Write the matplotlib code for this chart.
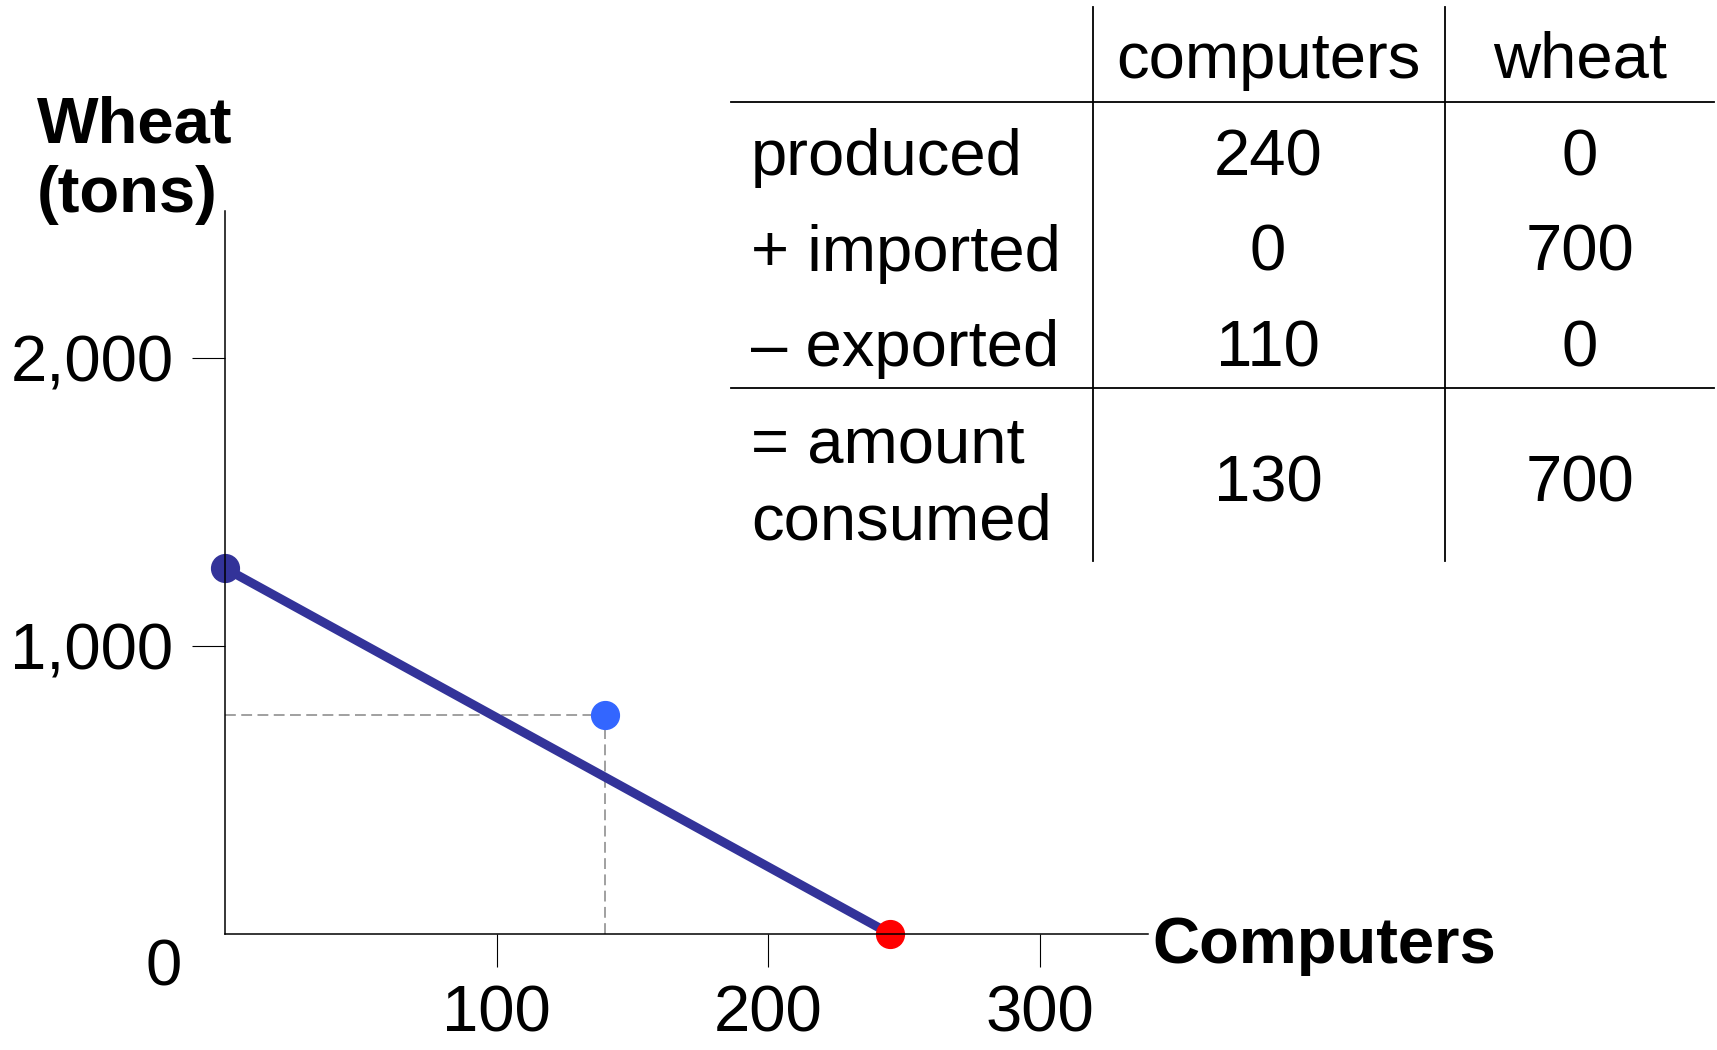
import matplotlib.pyplot as plt

plt.rcParams['font.family'] = ['Liberation Sans', 'DejaVu Sans']

# production possibilities line (computers, wheat)
ppf_x = [0, 245]
ppf_y = [1270, 0]
# consumption point
cons_x = 140
cons_y = 760

x_ticks = [100, 200, 300]
y_ticks = [1000, 2000]
y_tick_labels = ['1,000', '2,000']

col_heads = ['computers', 'wheat']
row_labels = ['produced', '+ imported', '\u2013 exported', '= amount\nconsumed']
computers_col = ['240', '0', '110', '130']
wheat_col = ['0', '700', '0', '700']

W, H = 1717, 1050
FS = 47
fig = plt.figure(figsize=(W / 100, H / 100), dpi=100)

# axes placed in pixels
x0, y0 = 225, 934
sx, sy = 2.716, 0.288
xmax, ymax = 340, 2510
ax = fig.add_axes([x0 / W, (H - y0) / H, xmax * sx / W, ymax * sy / H])
ax.set_xlim(0, xmax)
ax.set_ylim(0, ymax)
ax.patch.set_alpha(0)
for s in ['top', 'right']:
    ax.spines[s].set_visible(False)
for s in ['left', 'bottom']:
    ax.spines[s].set_linewidth(1.1)

ax.set_xticks(x_ticks)
ax.set_xticklabels([str(v) for v in x_ticks])
ax.set_yticks(y_ticks)
ax.set_yticklabels(y_tick_labels)
ax.tick_params(axis='both', direction='out', length=24, width=0.8, labelsize=FS)
ax.tick_params(axis='x', pad=12)
ax.tick_params(axis='y', pad=13)

# dashed guide lines to consumption point
ax.plot([0, cons_x], [cons_y, cons_y], color='#999999', lw=1.3, ls=(0, (6, 3)))
ax.plot([cons_x, cons_x], [0, cons_y], color='#999999', lw=1.3, ls=(0, (6, 3)))

ax.plot(ppf_x, ppf_y, color='#333399', lw=6.5, solid_capstyle='butt')
ax.plot(ppf_x[0], ppf_y[0], 'o', color='#333399', ms=20, clip_on=False)
ax.plot(ppf_x[1], ppf_y[1], 'o', color='#ff0000', ms=20, clip_on=False)
ax.plot(cons_x, cons_y, 'o', color='#3366ff', ms=20, clip_on=False)

# axis titles and origin label
fig.text(37 / W, 1 - 160 / H, 'Wheat\n(tons)', fontsize=FS, fontweight='bold',
         va='center', ha='left', linespacing=1.2)
fig.text(1152 / W, 1 - 946 / H, 'Computers', fontsize=FS, fontweight='bold',
         va='center', ha='left')
fig.text(164 / W, 1 - 968 / H, '0', fontsize=FS, va='center', ha='center')

# table
line_kw = dict(color='black', lw=1.3)
fig.add_artist(plt.Line2D([731 / W, 1714 / W], [1 - 102 / H, 1 - 102 / H], **line_kw))
fig.add_artist(plt.Line2D([731 / W, 1714 / W], [1 - 388 / H, 1 - 388 / H], **line_kw))
fig.add_artist(plt.Line2D([1093 / W, 1093 / W], [1 - 7 / H, 1 - 561 / H], **line_kw))
fig.add_artist(plt.Line2D([1445 / W, 1445 / W], [1 - 7 / H, 1 - 561 / H], **line_kw))

col_x = [1268, 1580]
head_y = 61
row_y = [158, 254, 349, 484]
for cx, head in zip(col_x, col_heads):
    fig.text(cx / W, 1 - head_y / H, head, fontsize=FS, ha='center', va='center')
for ry, lab, c1, c2 in zip(row_y, row_labels, computers_col, wheat_col):
    fig.text(751 / W, 1 - ry / H, lab, fontsize=FS, ha='left', va='center',
             linespacing=1.35)
    fig.text(col_x[0] / W, 1 - ry / H, c1, fontsize=FS, ha='center', va='center')
    fig.text(col_x[1] / W, 1 - ry / H, c2, fontsize=FS, ha='center', va='center')

fig.savefig('out.png', dpi=100)
